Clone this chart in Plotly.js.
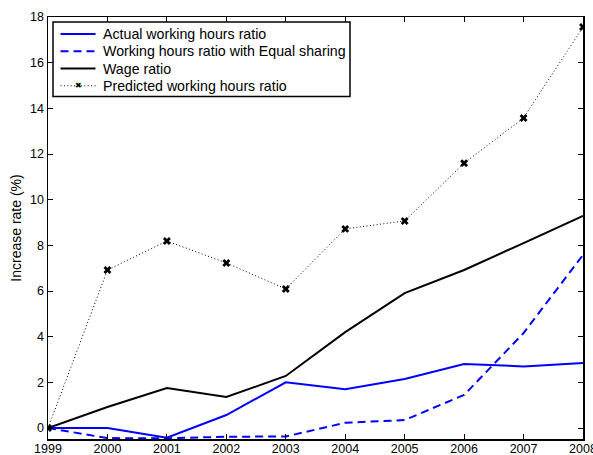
<!DOCTYPE html>
<html>
<head>
<meta charset="utf-8">
<script src="https://cdn.plot.ly/plotly-3.0.1.min.js"></script>
<style>
  html, body { margin: 0; padding: 0; background: #fff; }
  #chart { width: 593px; height: 455px; }
</style>
</head>
<body>
<div id="chart"></div>
<script>
// Years on the horizontal axis
const years = [1999, 2000, 2001, 2002, 2003, 2004, 2005, 2006, 2007, 2008];

// Increase rates (%) for each series
const actualHours = [0, 0, -0.42, 0.57, 2.0, 1.7, 2.15, 2.8, 2.7, 2.85];
const equalSharingHours = [0, -0.44, -0.45, -0.38, -0.37, 0.23, 0.35, 1.45, 4.16, 7.58];
const wageRatio = [0, 0.92, 1.75, 1.36, 2.28, 4.2, 5.91, 6.92, 8.1, 9.29];
const predictedHours = [0, 6.92, 8.19, 7.23, 6.09, 8.72, 9.07, 11.6, 13.58, 17.56];

const seriesNames = [
  'Actual working hours ratio',
  'Working hours ratio with Equal sharing',
  'Wage ratio',
  'Predicted working hours ratio'
];

const yTicks = [0, 2, 4, 6, 8, 10, 12, 14, 16, 18];

const font = 'Liberation Sans, Arial, Helvetica, sans-serif';
const W = 593, H = 455;
const M = { l: 48, r: 10, t: 17, b: 16 };

// Line styles shared by the plotted traces and the boxed key
const styles = [
  { color: '#0000ff', width: 2, dash: 'solid' },
  { color: '#0000ff', width: 2, dash: '8px,5px' },
  { color: '#000000', width: 2, dash: 'solid' },
  { color: '#000000', width: 1, dash: '1px,2.4px' }
];

const traces = [
  { x: years, y: actualHours, name: seriesNames[0], type: 'scatter', mode: 'lines', line: styles[0] },
  { x: years, y: equalSharingHours, name: seriesNames[1], type: 'scatter', mode: 'lines', line: styles[1] },
  { x: years, y: wageRatio, name: seriesNames[2], type: 'scatter', mode: 'lines', line: styles[2] },
  {
    x: years, y: predictedHours, name: seriesNames[3],
    type: 'scatter', mode: 'lines+markers', line: styles[3],
    marker: { symbol: 'x', size: 7, color: '#000000' }
  }
];

// Pixel -> paper conversion for the key box
const pw = W - M.l - M.r, ph = H - M.t - M.b;
const px = v => (v - M.l) / pw;
const py = v => 1 - (v - M.t) / ph;

const key = { x0: 53, x1: 350, y0: 22, y1: 96.5, rows: [34, 51.3, 68.5, 85.8], lx0: 60.5, lx1: 95.5, tx: 100.5 };

const shapes = [{
  type: 'rect', xref: 'paper', yref: 'paper',
  x0: px(key.x0), x1: px(key.x1), y0: py(key.y1), y1: py(key.y0),
  line: { color: '#000', width: 1.5 }, fillcolor: '#fff', layer: 'above'
}];
const annotations = [];
seriesNames.forEach((name, i) => {
  shapes.push({
    type: 'line', xref: 'paper', yref: 'paper', layer: 'above',
    x0: px(key.lx0), x1: px(key.lx1), y0: py(key.rows[i]), y1: py(key.rows[i]),
    line: styles[i]
  });
  annotations.push({
    xref: 'paper', yref: 'paper', x: px(key.tx), y: py(key.rows[i]),
    xanchor: 'left', yanchor: 'middle', showarrow: false, text: name,
    font: { family: font, size: 14.2, color: '#000' }
  });
});
// marker glyph on the dotted key sample
annotations.push({
  xref: 'paper', yref: 'paper', x: px((key.lx0 + key.lx1) / 2), y: py(key.rows[3]),
  xanchor: 'center', yanchor: 'middle', showarrow: false, text: '\u2716',
  font: { family: 'DejaVu Sans', size: 8, color: '#000' }
});

const axisCommon = {
  showline: true, linecolor: '#000', linewidth: 1.5,
  mirror: 'ticks', ticks: 'inside', ticklen: 5, tickwidth: 1, tickcolor: '#000',
  showgrid: false, zeroline: false,
  tickfont: { family: font, size: 12.5, color: '#000' }
};

const layout = {
  width: W, height: H,
  margin: M,
  paper_bgcolor: '#fff', plot_bgcolor: '#fff',
  showlegend: false,
  shapes: shapes,
  annotations: annotations,
  xaxis: Object.assign({}, axisCommon, {
    range: [1999, 2008],
    tickvals: years,
    ticktext: years.map(String),
    ticklabeloverflow: 'allow',
    ticklabelstandoff: -3
  }),
  yaxis: Object.assign({}, axisCommon, {
    range: [-0.48, 18],
    tickvals: yTicks,
    ticklabeloverflow: 'allow',
    title: { text: 'Increase rate (%)', font: { family: font, size: 14, color: '#000' }, standoff: 5 }
  })
};

Plotly.newPlot('chart', traces, layout, { displayModeBar: false, staticPlot: true });
</script>
</body>
</html>
